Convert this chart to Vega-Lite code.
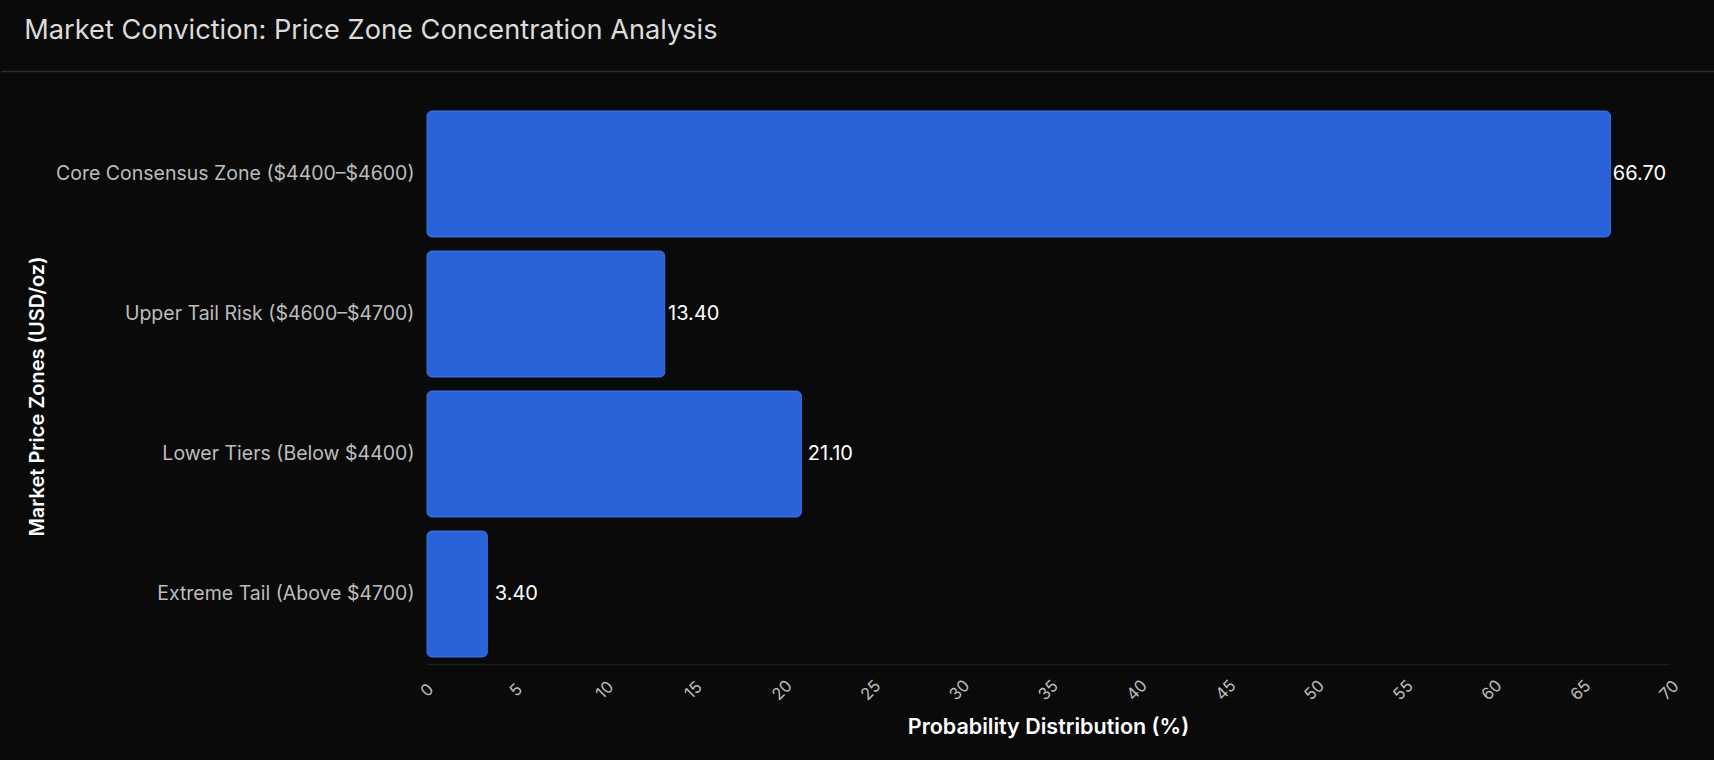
{
  "$schema": "https://vega.github.io/schema/vega-lite/v6.json",
  "background": "#0a0a0a",
  "padding": {"left": 0, "top": 16, "right": 0, "bottom": 22},
  "spacing": 31,
  "title": {
    "text": "Market Conviction: Price Zone Concentration Analysis",
    "anchor": "start",
    "dx": 24,
    "offset": 26,
    "fontSize": 27.2,
    "fontWeight": 400,
    "color": "#dcdcdc"
  },
  "config": {
    "view": {"stroke": null},
    "font": "Inter",
    "title": {"font": "Inter"},
    "axis": {"labelFont": "Inter", "titleFont": "Inter"}
  },
  "vconcat": [
    {
      "width": 1242,
      "height": 1,
      "data": {"values": [{"start": 0, "end": 1}]},
      "mark": {"type": "rule", "color": "#2c2c2c", "strokeWidth": 1.5},
      "encoding": {
        "x": {"field": "start", "type": "quantitative", "scale": {"domain": [0, 1], "range": [-426, 1288]}, "axis": null},
        "x2": {"field": "end"}
      }
    },
    {
      "width": 1242,
      "height": 560,
      "data": {
        "values": [
          {"zone": "Core Consensus Zone ($4400–$4600)", "probability": 66.7},
          {"zone": "Upper Tail Risk ($4600–$4700)", "probability": 13.4},
          {"zone": "Lower Tiers (Below $4400)", "probability": 21.1},
          {"zone": "Extreme Tail (Above $4700)", "probability": 3.4}
        ]
      },
      "encoding": {
        "y": {
          "field": "zone",
          "type": "nominal",
          "sort": null,
          "scale": {"paddingInner": 0.1, "paddingOuter": 0.05},
          "axis": {
            "title": "Market Price Zones (USD/oz)",
            "titleColor": "#ffffff",
            "titleFontSize": 20,
            "titleFontWeight": 600,
            "titleX": -380,
            "titleY": 292,
            "labelColor": "#bdbdbd",
            "labelFontSize": 19.5,
            "labelPadding": 13,
            "labelLimit": 500,
            "ticks": false,
            "domain": false,
            "grid": false
          }
        },
        "x": {
          "field": "probability",
          "type": "quantitative",
          "scale": {"domain": [0, 70], "nice": false},
          "axis": {
            "title": "Probability Distribution (%)",
            "values": [0, 5, 10, 15, 20, 25, 30, 35, 40, 45, 50, 55, 60, 65, 70],
            "titleColor": "#ffffff",
            "titleFontSize": 21.5,
            "titleFontWeight": 600,
            "titlePadding": 13,
            "labelColor": "#bdbdbd",
            "labelFontSize": 16.5,
            "labelAngle": -45,
            "labelAlign": "center",
            "labelBaseline": "middle",
            "labelPadding": 26,
            "ticks": false,
            "grid": false,
            "domainColor": "#1e1e1e",
            "domainWidth": 1.5
          }
        }
      },
      "layer": [
        {
          "mark": {"type": "bar", "cornerRadius": 5, "fill": "#2962d9", "stroke": "#3a6fdc", "strokeWidth": 1}
        },
        {
          "mark": {"type": "text", "align": "center", "baseline": "middle", "dx": 29, "fontSize": 20, "fill": "#ffffff"},
          "encoding": {
            "text": {"field": "probability", "type": "quantitative", "format": ".2f"}
          }
        }
      ]
    }
  ]
}
